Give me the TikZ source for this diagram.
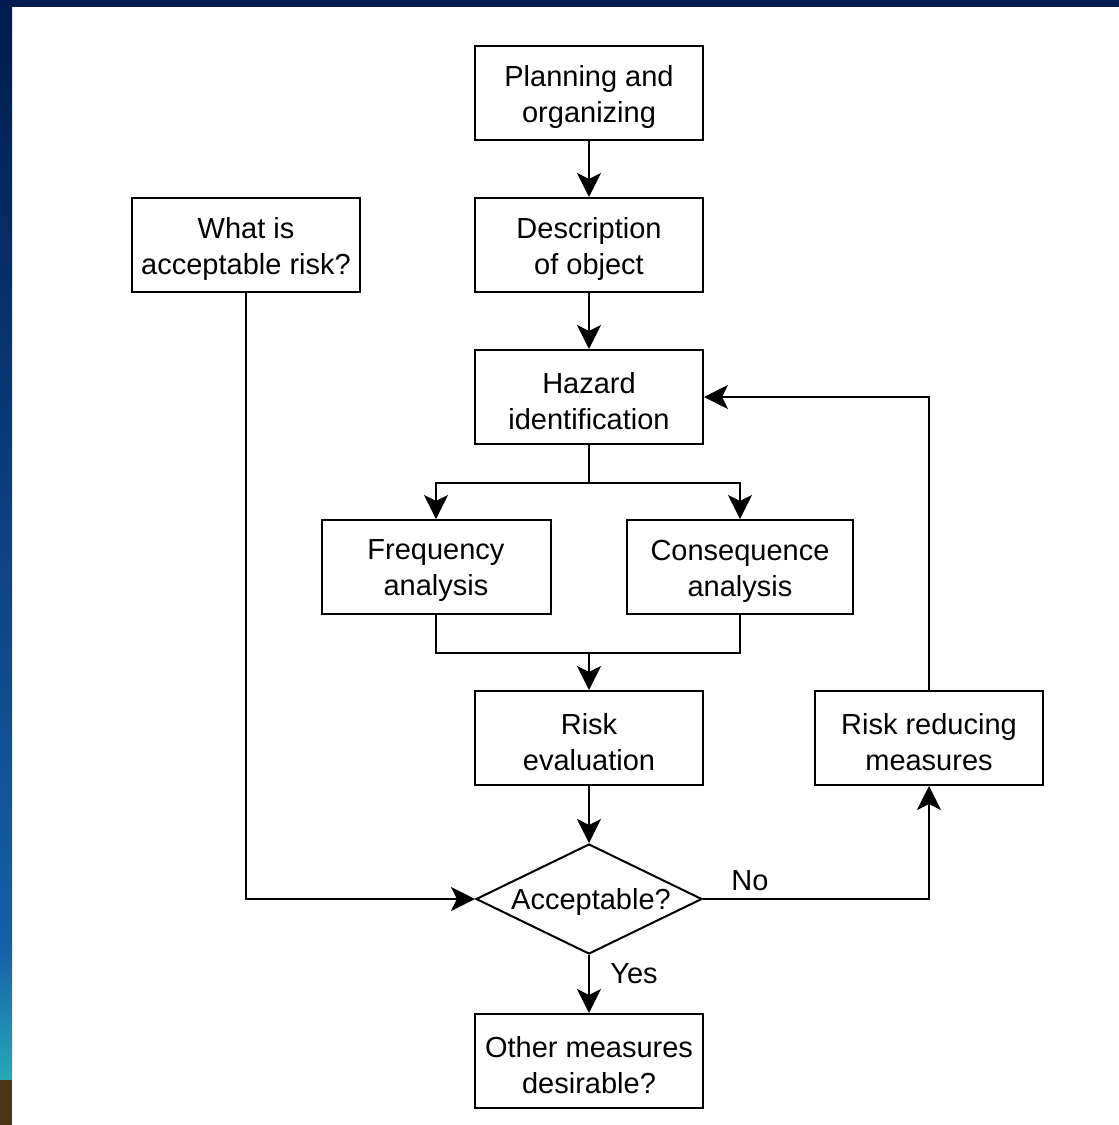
\documentclass[tikz,border=0pt]{standalone}
\usepackage{fontspec}
\setmainfont{Liberation Sans}
\usetikzlibrary{shapes.geometric,arrows.meta}
\definecolor{navy}{HTML}{001A50}
\definecolor{midblue}{HTML}{1560A8}
\definecolor{teal}{HTML}{28A8B8}
\definecolor{earth}{HTML}{4A3518}
\begin{document}
\begin{tikzpicture}[x=1pt,y=-1pt,
  lbl/.style={font=\fontsize{29}{36}\selectfont,inner sep=0pt},
  % a framed box whose two-line text sits a little below the centre
  box/.style={draw,line width=2pt,minimum width=228pt,minimum height=94pt,
    inner sep=0pt,label={[lbl,align=center,yshift=-4pt]center:#1}},
  decision/.style={draw,line width=2pt,diamond,aspect=2.05,inner sep=0pt},
  link/.style={line width=2pt,-{Stealth[length=24pt,width=24pt,inset=6pt]}},
  plain/.style={line width=2pt}]
% frame
\fill[white] (0,0) rectangle (1119,1125);
\useasboundingbox (0,0) rectangle (1119,1125);
\fill[navy] (0,0) rectangle (1119,7);
\shade[top color=navy,bottom color=midblue] (0,0) rectangle (12,950);
\shade[top color=midblue,bottom color=teal] (0,950) rectangle (12,1080);
\fill[earth] (0,1080) rectangle (12,1125);
% nodes
\node[box={Planning and\\organizing}] (plan) at (589,93) {};
\node[box={Description\\of object}] (desc) at (589,245) {};
\node[box={What is\\acceptable risk?}] (accr) at (246,245) {};
\node[box={Hazard\\identification}] (haz) at (589,397) {};
\node[box={Frequency\\analysis},minimum width=229pt] (freq) at (436,567) {};
\node[box={Consequence\\analysis},minimum width=226pt] (cons) at (740,567) {};
\node[box={Risk\\evaluation}] (eval) at (589,738) {};
\node[box={Risk reducing\\measures}] (red) at (929,738) {};
\node[decision,minimum width=226pt,minimum height=110pt] (acc) at (589,899) {};
\node[lbl] (acctext) at (591,902) {Acceptable?};
\node[box={Other measures\\desirable?}] (other) at (589,1061) {};
% junctions
\coordinate (split) at (589,483);
\coordinate (merge) at (589,653);
% connectors
\draw[link] (plan) -- (desc);
\draw[link] (desc) -- (haz);
\draw[plain] (haz.south) -- (split);
\draw[link] (split) -| (freq.north);
\draw[link] (split) -| (cons.north);
\draw[plain] (freq.south) |- (merge) -| (cons.south);
\draw[link] (merge) -- (eval.north);
\draw[link] (eval) -- (acc.north);
\draw[link] (accr.south) |- (acc.west);
\draw[link] (acc.east) -| (red.south);
\draw[link] (red.north) |- (haz.east);
\draw[link] (acc.south) -- (other.north);
\node[lbl] (no) at (750,881) {No};
\node[lbl] (yes) at (634,974) {Yes};
\end{tikzpicture}
\end{document}
